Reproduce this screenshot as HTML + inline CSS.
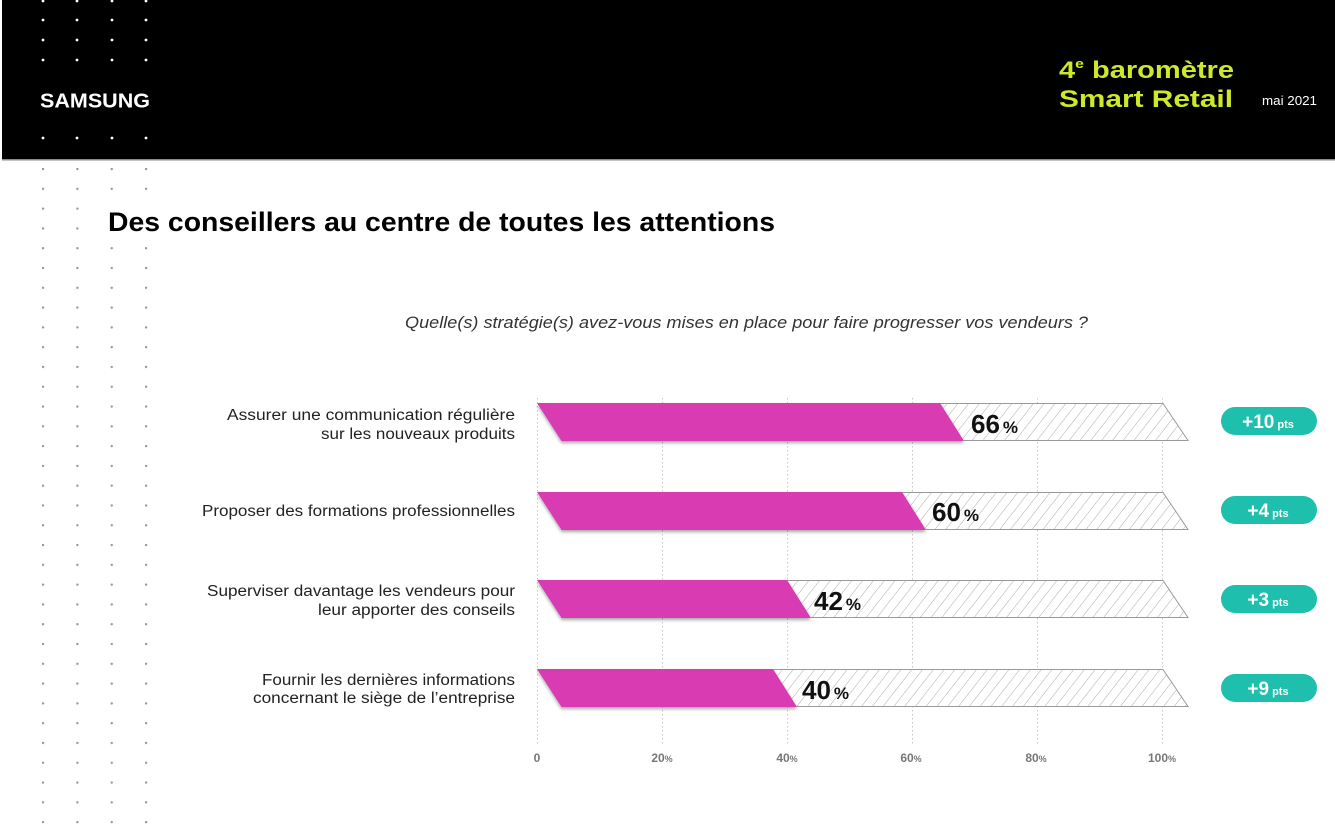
<!DOCTYPE html>
<html><head><meta charset="utf-8"><style>
html,body{margin:0;padding:0;background:#fff;}
svg{display:block;}
</style></head><body>
<svg width="1335" height="833" viewBox="0 0 1335 833" xmlns="http://www.w3.org/2000/svg">
<defs>
<pattern id="dots" x="42" y="168" width="34.33" height="19.79" patternUnits="userSpaceOnUse">
<circle cx="1" cy="1" r="1.25" fill="#999"/>
</pattern>
<pattern id="hatch" width="8.5" height="8.5" patternUnits="userSpaceOnUse" patternTransform="rotate(38)">
<line x1="0" y1="0" x2="0" y2="8.5" stroke="#ababab" stroke-width="1"/>
</pattern>
<filter id="sh" x="-5%" y="-30%" width="110%" height="170%">
<feDropShadow dx="0" dy="2" stdDeviation="1.6" flood-color="#000" flood-opacity="0.35"/>
</filter>
</defs>

<!-- header -->
<rect x="2" y="0" width="1333" height="159" fill="#000"/>
<rect x="2" y="159" width="1333" height="1.5" fill="#8a8a8a"/>
<g fill="#fff">
<circle cx="43" cy="1" r="1.4"/><circle cx="77" cy="1" r="1.4"/><circle cx="112" cy="1" r="1.4"/><circle cx="146" cy="1" r="1.4"/>
<circle cx="43" cy="20" r="1.4"/><circle cx="77" cy="20" r="1.4"/><circle cx="112" cy="20" r="1.4"/><circle cx="146" cy="20" r="1.4"/>
<circle cx="43" cy="40" r="1.4"/><circle cx="77" cy="40" r="1.4"/><circle cx="112" cy="40" r="1.4"/><circle cx="146" cy="40" r="1.4"/>
<circle cx="43" cy="60" r="1.4"/><circle cx="77" cy="60" r="1.4"/><circle cx="112" cy="60" r="1.4"/><circle cx="146" cy="60" r="1.4"/>
<circle cx="43" cy="138" r="1.4"/><circle cx="77" cy="138" r="1.4"/><circle cx="112" cy="138" r="1.4"/><circle cx="146" cy="138" r="1.4"/>
</g>
<text x="40" y="107.5" font-family="Liberation Sans, sans-serif" font-weight="bold" font-size="20.5" fill="#fff" textLength="110" lengthAdjust="spacingAndGlyphs">SAMSUNG</text>
<text x="1059" y="78" font-family="Liberation Sans, sans-serif" font-weight="bold" font-size="24" fill="#cfe82a" textLength="175" lengthAdjust="spacingAndGlyphs">4<tspan font-size="13" dy="-10">e</tspan><tspan dy="10"> baromètre</tspan></text>
<text x="1059" y="107" font-family="Liberation Sans, sans-serif" font-weight="bold" font-size="24" fill="#cfe82a" textLength="174" lengthAdjust="spacingAndGlyphs">Smart Retail</text>
<text x="1262" y="105" font-family="Liberation Sans, sans-serif" font-size="13" fill="#fff" textLength="55" lengthAdjust="spacingAndGlyphs">mai 2021</text>

<!-- left dot grid -->
<rect x="38" y="162" width="114" height="668" fill="url(#dots)"/>
<rect x="100" y="198" width="60" height="38" fill="#fff"/>

<!-- title -->
<text x="108" y="231" font-family="Liberation Sans, sans-serif" font-weight="bold" font-size="26.5" fill="#000" textLength="667" lengthAdjust="spacingAndGlyphs">Des conseillers au centre de toutes les attentions</text>

<!-- question -->
<text x="405" y="328" font-family="Liberation Sans, sans-serif" font-style="italic" font-size="17" fill="#333" textLength="683" lengthAdjust="spacingAndGlyphs">Quelle(s) stratégie(s) avez-vous mises en place pour faire progresser vos vendeurs ?</text>

<!-- gridlines -->
<g stroke="#c6c6c6" stroke-width="1" stroke-dasharray="1.5 2.5">
<line x1="537.5" y1="398" x2="537.5" y2="745"/>
<line x1="662.5" y1="398" x2="662.5" y2="745"/>
<line x1="787.5" y1="398" x2="787.5" y2="745"/>
<line x1="912.5" y1="398" x2="912.5" y2="745"/>
<line x1="1037.5" y1="398" x2="1037.5" y2="745"/>
<line x1="1162.5" y1="398" x2="1162.5" y2="745"/>
</g>

<!-- bar 1 -->
<polygon points="940,403 1163,403 1188,441 964,441" fill="#fff"/>
<polygon points="940,403 1163,403 1188,441 964,441" fill="url(#hatch)"/>
<polyline points="940,403.5 1163,403.5 1188,440.5 964,440.5" fill="none" stroke="#9a9a9a" stroke-width="1"/>
<polygon points="537,403 940,403 964,441 561.5,441" fill="#d83ab2" filter="url(#sh)"/>
<!-- bar 2 -->
<polygon points="902,492 1163,492 1188,530 926,530" fill="#fff"/>
<polygon points="902,492 1163,492 1188,530 926,530" fill="url(#hatch)"/>
<polyline points="902,492.5 1163,492.5 1188,529.5 926,529.5" fill="none" stroke="#9a9a9a" stroke-width="1"/>
<polygon points="537,492 902,492 926,530 561.5,530" fill="#d83ab2" filter="url(#sh)"/>
<!-- bar 3 -->
<polygon points="787,580 1163,580 1188,618 811,618" fill="#fff"/>
<polygon points="787,580 1163,580 1188,618 811,618" fill="url(#hatch)"/>
<polyline points="787,580.5 1163,580.5 1188,617.5 811,617.5" fill="none" stroke="#9a9a9a" stroke-width="1"/>
<polygon points="537,580 787,580 811,618 561.5,618" fill="#d83ab2" filter="url(#sh)"/>
<!-- bar 4 -->
<polygon points="773,669 1163,669 1188,707 797,707" fill="#fff"/>
<polygon points="773,669 1163,669 1188,707 797,707" fill="url(#hatch)"/>
<polyline points="773,669.5 1163,669.5 1188,706.5 797,706.5" fill="none" stroke="#9a9a9a" stroke-width="1"/>
<polygon points="537,669 773,669 797,707 561.5,707" fill="#d83ab2" filter="url(#sh)"/>

<!-- value labels -->
<g font-family="Liberation Sans, sans-serif" font-weight="bold" fill="#111">
<text x="971" y="433" font-size="26">66<tspan font-size="17" dx="3">%</tspan></text>
<text x="932" y="521" font-size="26">60<tspan font-size="17" dx="3">%</tspan></text>
<text x="814" y="610" font-size="26">42<tspan font-size="17" dx="3">%</tspan></text>
<text x="802" y="699" font-size="26">40<tspan font-size="17" dx="3">%</tspan></text>
</g>

<!-- category labels -->
<g font-family="Liberation Sans, sans-serif" font-size="15.5" fill="#222" text-anchor="end">
<text x="515" y="420" textLength="288" lengthAdjust="spacingAndGlyphs">Assurer une communication régulière</text>
<text x="515" y="439" textLength="194" lengthAdjust="spacingAndGlyphs">sur les nouveaux produits</text>
<text x="515" y="516" textLength="313" lengthAdjust="spacingAndGlyphs">Proposer des formations professionnelles</text>
<text x="515" y="596" textLength="308" lengthAdjust="spacingAndGlyphs">Superviser davantage les vendeurs pour</text>
<text x="515" y="615" textLength="197" lengthAdjust="spacingAndGlyphs">leur apporter des conseils</text>
<text x="515" y="685" textLength="253" lengthAdjust="spacingAndGlyphs">Fournir les dernières informations</text>
<text x="515" y="703" textLength="262" lengthAdjust="spacingAndGlyphs">concernant le siège de l’entreprise</text>
</g>

<!-- badges -->
<g fill="#1fbfad">
<rect x="1221" y="407" width="96" height="28" rx="14"/>
<rect x="1221" y="496" width="96" height="28" rx="14"/>
<rect x="1221" y="585" width="96" height="28" rx="14"/>
<rect x="1221" y="674" width="96" height="28" rx="14"/>
</g>
<g font-family="Liberation Sans, sans-serif" font-weight="bold" fill="#fff" text-anchor="middle">
<text x="1268" y="428" font-size="19">+10<tspan font-size="11" dx="3">pts</tspan></text>
<text x="1268" y="517" font-size="19">+4<tspan font-size="11" dx="3">pts</tspan></text>
<text x="1268" y="606" font-size="19">+3<tspan font-size="11" dx="3">pts</tspan></text>
<text x="1268" y="695" font-size="19">+9<tspan font-size="11" dx="3">pts</tspan></text>
</g>

<!-- axis labels -->
<g font-family="Liberation Sans, sans-serif" font-weight="bold" font-size="12" fill="#777" text-anchor="middle">
<text x="537" y="762">0</text>
<text x="662" y="762">20<tspan font-size="9">%</tspan></text>
<text x="787" y="762">40<tspan font-size="9">%</tspan></text>
<text x="911" y="762">60<tspan font-size="9">%</tspan></text>
<text x="1036" y="762">80<tspan font-size="9">%</tspan></text>
<text x="1162" y="762">100<tspan font-size="9">%</tspan></text>
</g>
</svg>
</body></html>
